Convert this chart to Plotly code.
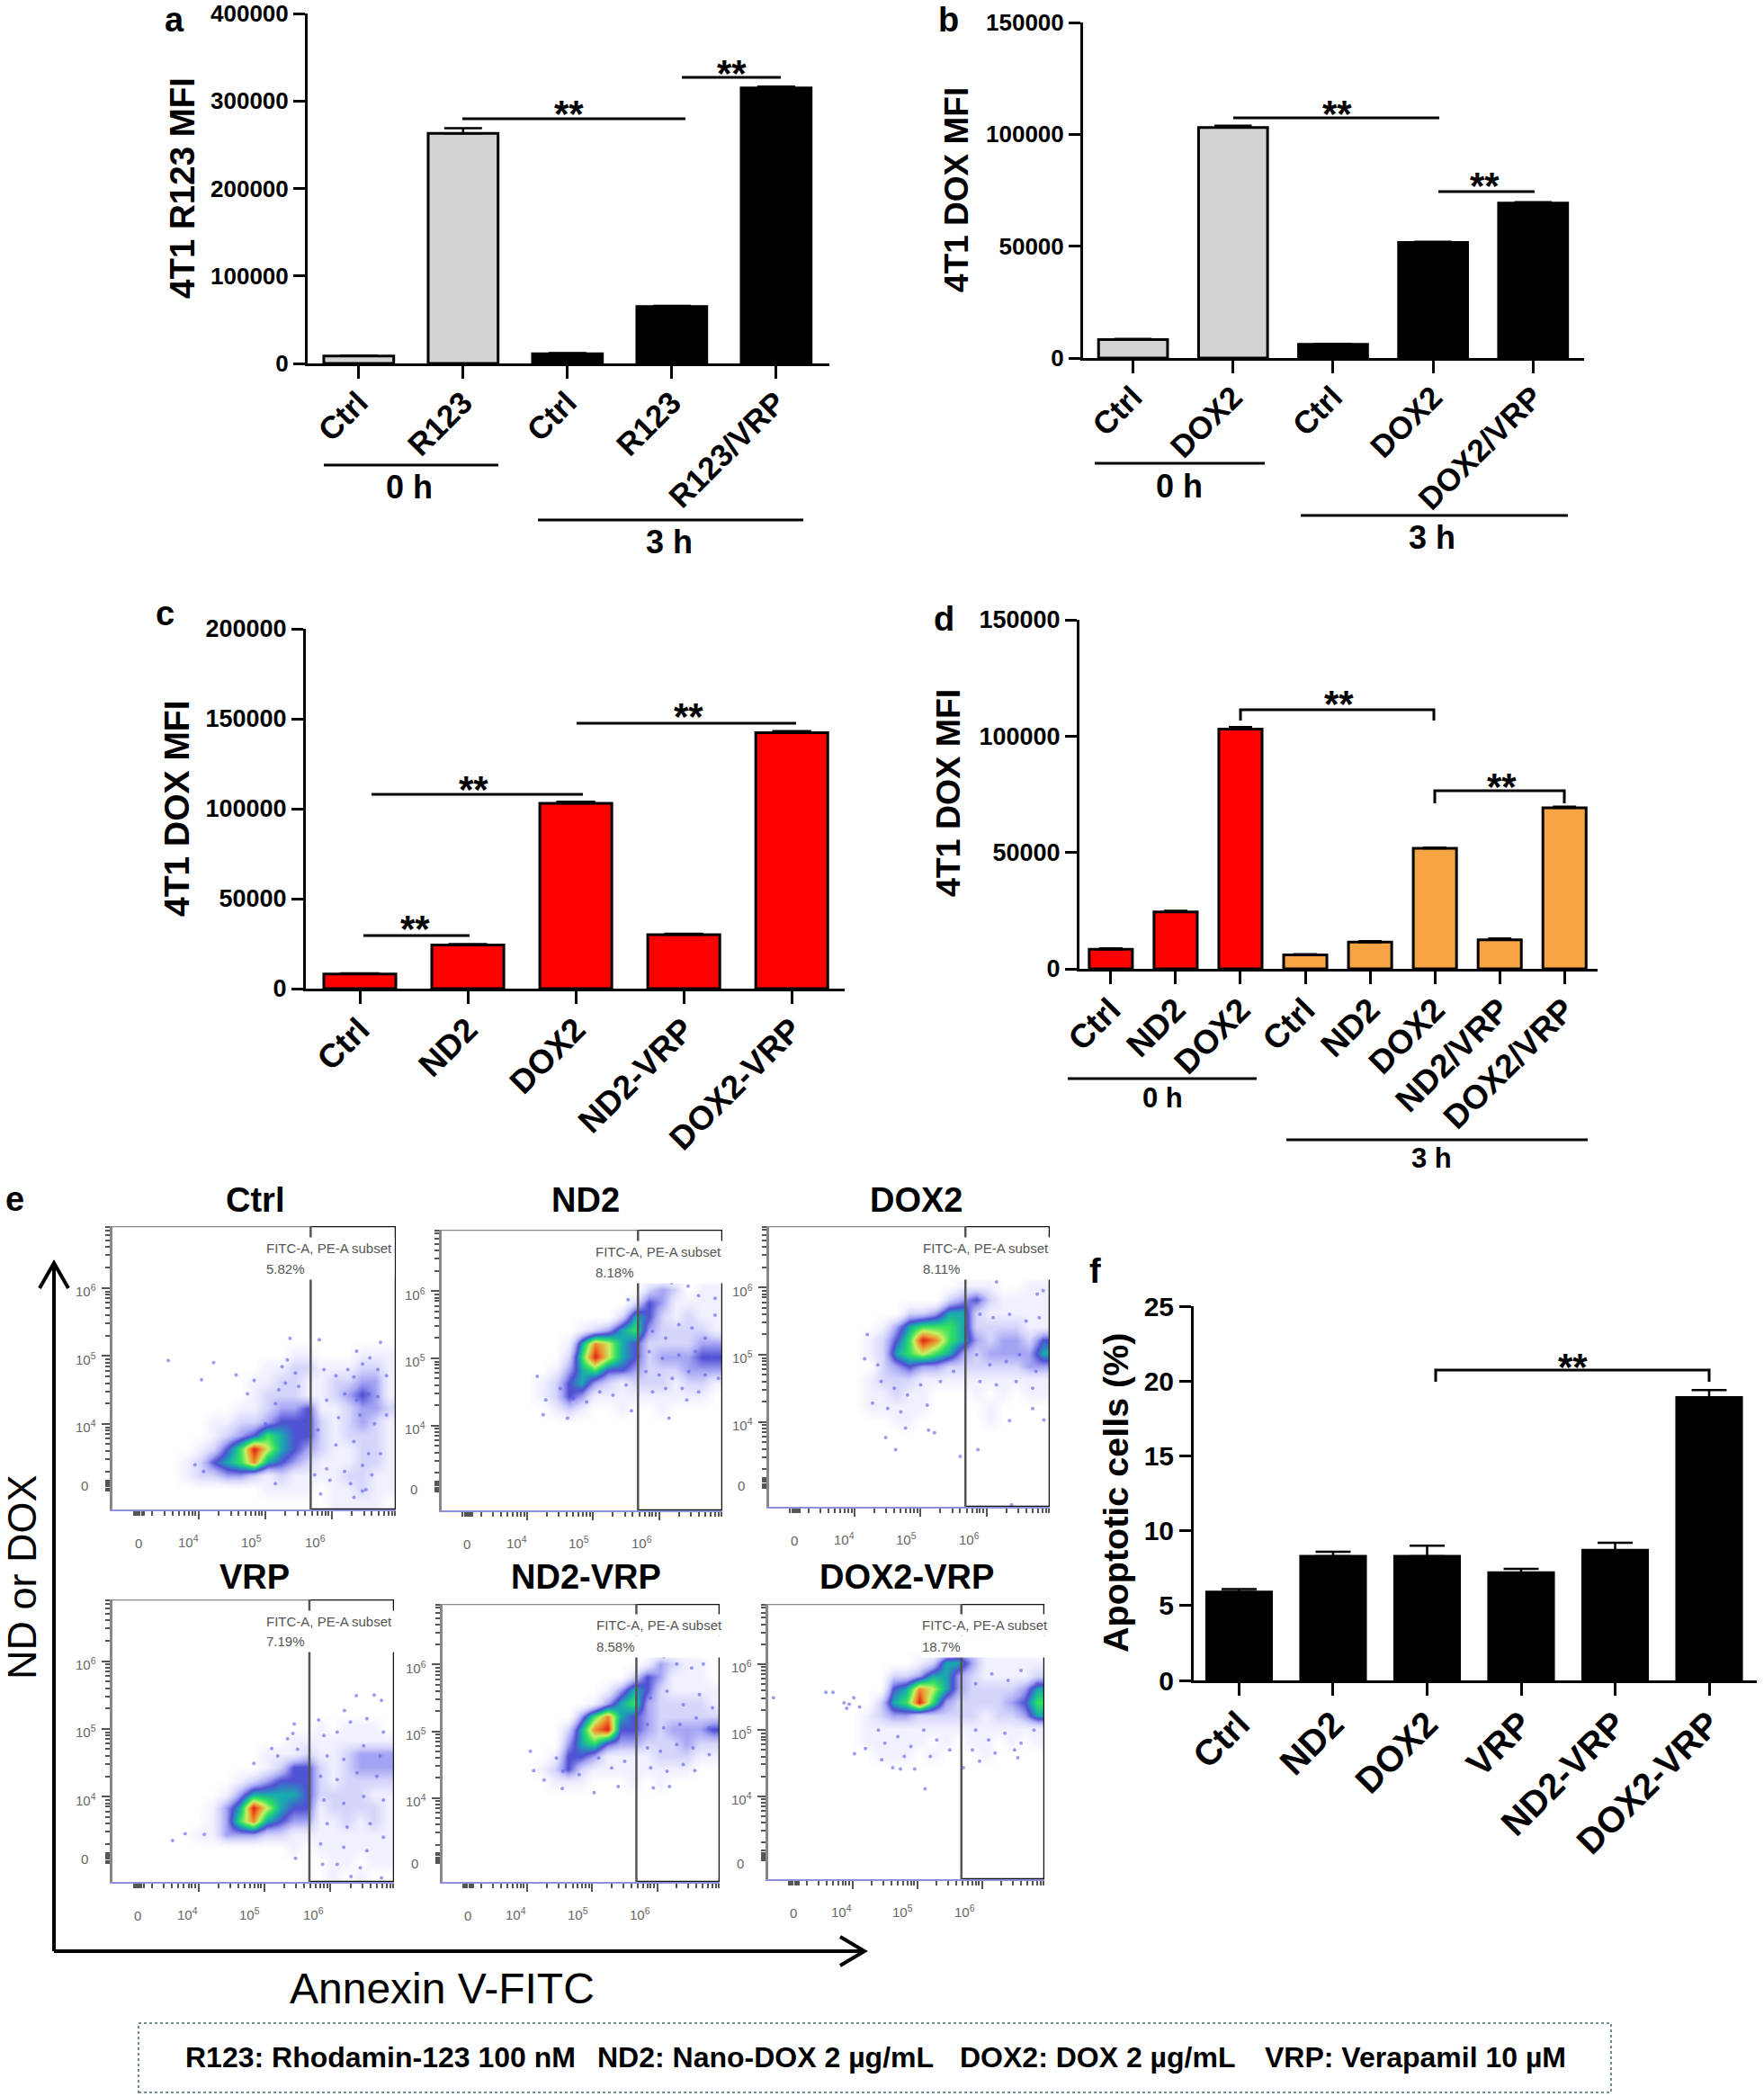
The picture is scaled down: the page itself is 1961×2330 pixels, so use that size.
import plotly.graph_objects as go

W, H = 1961, 2330
FONT = "Liberation Sans"

# ------- bar panel values -------
A_CATS = ["Ctrl", "R123", "Ctrl", "R123", "R123/VRP"]
A_VALS = [8400, 263000, 11000, 65000, 315000]
A_ERRS = [500, 6000, 800, 800, 1500]
A_COLS = ["#d3d3d3", "#d3d3d3", "#000000", "#000000", "#000000"]
A_TICKS = [0, 100000, 200000, 300000, 400000]

B_CATS = ["Ctrl", "DOX2", "Ctrl", "DOX2", "DOX2/VRP"]
B_VALS = [8200, 103000, 6100, 51700, 69300]
B_ERRS = [300, 900, 200, 300, 400]
B_COLS = ["#d3d3d3", "#d3d3d3", "#000000", "#000000", "#000000"]
B_TICKS = [0, 50000, 100000, 150000]

C_CATS = ["Ctrl", "ND2", "DOX2", "ND2-VRP", "DOX2-VRP"]
C_VALS = [8100, 24300, 103000, 30000, 142200]
C_ERRS = [400, 400, 900, 500, 900]
C_COLS = ["#ff0000"] * 5
C_TICKS = [0, 50000, 100000, 150000, 200000]

D_CATS = ["Ctrl", "ND2", "DOX2", "Ctrl", "ND2", "DOX2", "ND2/VRP", "DOX2/VRP"]
D_VALS = [8400, 24500, 103000, 6000, 11500, 51800, 12500, 69200]
D_ERRS = [400, 400, 900, 300, 400, 300, 500, 500]
D_COLS = ["#ff0000"] * 3 + ["#f7a544"] * 5
D_TICKS = [0, 50000, 100000, 150000]

F_CATS = ["Ctrl", "ND2", "DOX2", "VRP", "ND2-VRP", "DOX2-VRP"]
F_VALS = [5.9, 8.3, 8.3, 7.2, 8.7, 18.9]
F_ERRS = [0.2, 0.3, 0.7, 0.25, 0.5, 0.5]
F_COLS = ["#000000"] * 6
F_TICKS = [0, 5, 10, 15, 20, 25]

# ------- flow cytometry panels: density read by eye, 0 empty .. 9 peak, top row first -------
ZERO = "0" * 21
CTRL_GRID = [ZERO] * 9 + [
    "000000000000011000111", "000000000001122111221", "000000000011221122331",
    "000000000012221123431", "000000000112334112332", "000000011223444212321",
    "000000012346544212221", "000000124697543211221", "000001245685432111221",
    "000001223321211112211", "000000000001111011211", "000000000000000011110"]
ND2_GRID = [ZERO] * 4 + [
    "000000000000000232011", "000000000000002431111", "000000000000025421211",
    "000000000012356322221", "000000000158754222233", "000000000269754233344",
    "000000001356443222333", "000000012453212221221", "000000012431111111110",
    "000000001210010010000"] + [ZERO] * 7
DOX2_GRID = [ZERO] * 4 + [
    "000000000000001110011", "000000000000023421111", "000000000022355211111",
    "000000001356665222211", "000000012469865323324", "000000012567653233335",
    "000000002343322222233", "000000012221111111111", "000000011211000101011",
    "000000011111000010000", "000000000110000010000"] + [ZERO] * 6
VRP_GRID = [ZERO] * 9 + [
    "000000000000000101110", "000000000000011111111", "000000000001112112333",
    "000000000001244212333", "000000000123444212222", "000000001355554222211",
    "000000013597544122221", "000000013685433112121", "000000113332211111111",
    "000000000000010111111", "000000000000000011011", "000000000000000010100"]
ND2VRP_GRID = [ZERO] * 4 + [
    "000000000000000132110", "000000000000002431110", "000000000000135421111",
    "000000000001356322221", "000000000036854322222", "000000000258944323334",
    "000000000356433222322", "000000001443111122211", "000000012421111111100",
    "000000001110001010000"] + [ZERO] * 7
DOX2VRP_GRID = [ZERO] * 2 + [
    "000000000000000110000", "000000000000012210000", "000000000001255311111",
    "000000000223553211112", "000000000458753222235", "000000002569632222346",
    "000000012332222212235", "000000011111111111111", "000000011111010110101",
    "000000001110100010000"] + [ZERO] * 9

# stray events, as (FITC decade, PE decade)
CTRL_DOTS = [(3.54, 4.93), (4.22, 4.90), (4.04, 4.65), (4.56, 4.72), (4.83, 4.64), (4.73, 4.44),
             (5.37, 5.26), (5.81, 5.24), (6.73, 5.2), (6.37, 5.07), (5.33, 4.94), (5.25, 4.84),
             (3.94, 3.40), (4.07, 3.30), (5.15, 3.12), (5.83, 2.97), (6.33, 2.92), (6.46, 3.01),
             (5.88, 4.8), (6.06, 4.71), (6.24, 4.8), (6.33, 4.69), (6.46, 4.88), (6.57, 4.97),
             (6.69, 4.8), (6.82, 4.71), (6.19, 4.44), (6.37, 4.35), (6.55, 4.44), (6.69, 4.4),
             (5.92, 4.35), (6.1, 4.09), (6.42, 4.13), (6.64, 4.0), (6.82, 4.13), (5.79, 3.91),
             (6.06, 3.69), (6.33, 3.74), (6.55, 3.56), (6.73, 3.56), (5.92, 3.34), (6.19, 3.30),
             (6.46, 3.39), (6.6, 3.25), (6.28, 3.12), (6.51, 3.03), (5.74, 3.25), (5.97, 3.17),
             (5.2, 4.5), (5.3, 4.6), (5.15, 4.3), (5.45, 4.75), (5.5, 4.55), (5.0, 4.0)]
ND2_DOTS = [(4.15, 4.73), (4.24, 4.16), (4.61, 4.11), (6.15, 4.11), (6.46, 6.31), (6.44, 6.07),
            (6.6, 5.93), (6.85, 5.89), (6.85, 5.64), (5.58, 4.22), (6.42, 4.38), (6.19, 6.12),
            (5.53, 5.87), (4.28, 4.38), (5.9, 5.4), (6.1, 5.3), (6.3, 5.5), (6.5, 5.45), (6.7, 5.3),
            (5.85, 5.1), (6.05, 5.0), (6.3, 5.05), (6.55, 5.1), (6.8, 5.0), (5.8, 4.8), (6.0, 4.75),
            (6.2, 4.7), (6.45, 4.8), (6.7, 4.75), (6.9, 4.7), (5.9, 4.5), (6.1, 4.55), (6.35, 4.55),
            (6.6, 4.5), (4.5, 4.55), (4.7, 4.4), (4.9, 4.35), (5.1, 4.5), (5.3, 4.45), (5.5, 4.6)]
DOX2_DOTS = [(4.19, 5.30), (4.15, 4.94), (4.27, 4.28), (4.47, 3.77), (4.62, 3.59), (4.77, 3.91),
             (5.12, 3.88), (5.21, 3.84), (5.6, 3.49), (5.87, 3.59), (6.35, 4.02), (6.87, 4.03),
             (6.7, 4.2), (6.15, 6.08), (6.77, 5.9), (6.86, 5.95), (6.38, 2.77), (5.9, 5.6),
             (6.1, 5.55), (6.35, 5.6), (6.6, 5.5), (6.8, 5.55), (5.85, 5.0), (6.05, 4.85), (6.3, 4.9),
             (6.5, 5.0), (6.75, 4.75), (5.9, 4.6), (6.15, 4.55), (6.45, 4.6), (6.7, 4.5), (4.4, 4.6),
             (4.6, 4.5), (4.8, 4.4), (5.0, 4.55), (4.35, 4.85), (4.5, 4.2), (4.7, 4.15), (5.1, 4.25),
             (5.3, 4.6), (5.5, 4.75)]
VRP_DOTS = [(3.61, 3.35), (3.8, 3.45), (4.09, 3.44), (4.84, 4.49), (5.11, 4.71), (5.45, 5.07),
            (5.43, 4.93), (5.82, 5.13), (6.39, 5.49), (6.66, 5.5), (6.77, 5.42), (6.21, 5.27),
            (5.47, 3.09), (5.88, 3.0), (6.31, 2.82), (6.77, 2.8), (5.9, 4.9), (6.1, 4.95), (6.3, 5.1),
            (6.55, 5.15), (6.8, 4.95), (5.95, 4.6), (6.2, 4.55), (6.5, 4.75), (6.75, 4.6), (5.85, 4.3),
            (6.1, 4.25), (6.4, 4.35), (6.7, 4.3), (5.9, 3.95), (6.2, 3.9), (6.5, 4.0), (6.8, 3.95),
            (5.95, 3.6), (6.25, 3.55), (6.6, 3.6), (5.85, 3.3), (6.2, 3.25), (6.55, 3.2), (6.8, 3.4),
            (6.1, 3.0), (6.45, 2.95), (5.2, 4.6), (5.35, 4.85), (5.5, 4.7)]
ND2VRP_DOTS = [(4.05, 4.70), (4.1, 4.41), (4.26, 4.27), (5.03, 4.08), (5.4, 4.17), (5.94, 4.15),
               (6.19, 4.17), (6.1, 6.12), (6.3, 6.01), (6.71, 6.01), (6.53, 5.95), (6.58, 4.41),
               (4.54, 4.14), (5.9, 5.5), (6.15, 5.6), (6.4, 5.4), (6.65, 5.55), (6.85, 5.35),
               (5.85, 5.1), (6.1, 5.05), (6.35, 5.1), (6.6, 5.2), (6.8, 5.05), (5.85, 4.75), (6.05, 4.7),
               (6.3, 4.8), (6.55, 4.75), (6.8, 4.65), (5.9, 4.45), (6.15, 4.4), (6.4, 4.5), (4.45, 4.6),
               (4.55, 4.4), (4.8, 4.35), (5.1, 4.6), (5.3, 4.45), (5.5, 4.55)]
DOX2VRP_DOTS = [(2.78, 5.49), (3.59, 5.57), (3.7, 5.57), (3.87, 5.41), (3.95, 5.39), (3.91, 5.33),
                (4.02, 5.49), (4.11, 5.35), (4.03, 4.64), (4.2, 4.72), (5.12, 4.11), (4.62, 4.43),
                (4.74, 4.41), (4.96, 4.41), (5.71, 4.43), (5.96, 4.53), (6.55, 4.58), (6.67, 6.15),
                (6.74, 6.15), (4.4, 5.0), (4.5, 4.8), (4.7, 4.9), (4.9, 4.75), (5.1, 5.0), (5.3, 4.85),
                (5.5, 4.7), (4.45, 4.55), (4.8, 4.6), (5.2, 4.6), (5.9, 5.0), (6.1, 4.85), (6.35, 4.95),
                (6.6, 4.8), (6.8, 5.0), (5.85, 4.7), (6.2, 4.65), (6.5, 4.7), (5.9, 5.7), (6.15, 5.85),
                (6.4, 5.75), (6.6, 5.9), (6.85, 5.7), (5.95, 6.25), (5.85, 6.4)]

FLOW_TITLES = ["Ctrl", "ND2", "DOX2", "VRP", "ND2-VRP", "DOX2-VRP"]
FLOW_PCT = ["5.82%", "8.18%", "8.11%", "7.19%", "8.58%", "18.7%"]
FLOW_GRIDS = [CTRL_GRID, ND2_GRID, DOX2_GRID, VRP_GRID, ND2VRP_GRID, DOX2VRP_GRID]
FLOW_DOTS = [CTRL_DOTS, ND2_DOTS, DOX2_DOTS, VRP_DOTS, ND2VRP_DOTS, DOX2VRP_DOTS]
GATE = 5.68
X_RANGE = [2.70, 6.96]
Y_RANGE = [2.74, 6.91]
X_MAJOR = [4, 5, 6]
Y_MAJOR = [4, 5, 6]
DECADE_MINORS = [0.3, 0.48, 0.6, 0.7, 0.78, 0.85, 0.9, 0.95]
ZERO_TICKS = [3.02, 3.05, 3.08, 3.11, 3.14, 3.17]
DENSITY_COLORS = [
    [0.0, "#ffffff"], [0.11, "#f0f0ff"], [0.22, "#d6d6fb"], [0.33, "#a6a6f4"], [0.44, "#5050d4"],
    [0.55, "#18a8b0"], [0.66, "#30e060"], [0.77, "#c8f060"], [0.88, "#ee9030"], [1.0, "#e02010"]]

# pixel boxes of the panels (left, right, top, bottom)
FLOW_BOXES = [(125, 440, 1363, 1678), (491, 803, 1367, 1679), (855, 1167, 1363, 1675),
              (125, 438, 1778, 2092), (492, 800, 1783, 2092), (854, 1161, 1783, 2089)]
FLOW_TITLE_POS = [(283, 1334), (651, 1334), (1018, 1334), (283, 1753), (651, 1753), (1008, 1753)]

fig = go.Figure()
shapes = []
notes = []
axis_no = 0


def px(x):
    return x / W


def py(y):
    return 1 - y / H


def text(x, y, s, size, bold=True, color="#000000", angle=0, family=FONT, **kw):
    notes.append(dict(x=px(x), y=py(y), xref="paper", yref="paper", text=s, showarrow=False,
                      textangle=angle, xanchor=kw.pop("xanchor", "center"), yanchor="middle",
                      font=dict(family=family, size=size, color=color,
                                weight="bold" if bold else "normal"), **kw))


def hline(x0, x1, y, width=3, color="#000000"):
    shapes.append(dict(type="line", xref="paper", yref="paper", x0=px(x0), x1=px(x1),
                       y0=py(y), y1=py(y), line=dict(color=color, width=width)))


def bracket(x0, x1, y, y_end0, y_end1):
    path = f"M{px(x0)},{py(y_end0)} L{px(x0)},{py(y)} L{px(x1)},{py(y)} L{px(x1)},{py(y_end1)}"
    shapes.append(dict(type="path", xref="paper", yref="paper", path=path,
                       line=dict(color="#000000", width=3)))


def stars(x, y):
    # the asterisks sit high in the line box, so push the box down
    text(x, y + 8, "**", 42)


def bar_panel(cats, vals, errs, cols, ticks, box, xr, tick_size, cat_size, bar_width):
    global axis_no
    axis_no += 1
    left, right, top, bottom = box
    xa, ya = f"x{axis_no}", f"y{axis_no}"
    bar_px = bar_width * (right - left) / (xr[1] - xr[0])
    fig.add_trace(go.Bar(
        x=list(range(len(vals))), y=vals, width=bar_width, xaxis=xa, yaxis=ya,
        marker=dict(color=cols, line=dict(color="#000000", width=3)),
        error_y=dict(type="data", symmetric=False, array=errs, arrayminus=[0] * len(errs),
                     color="#000000", thickness=2.5, width=bar_px * 0.27),
        showlegend=False))
    fig.update_layout(**{
        f"xaxis{axis_no}": dict(
            domain=[px(left), px(right)], anchor=ya, range=xr, tickmode="array", automargin=False,
            tickvals=list(range(len(cats))), ticktext=cats, tickangle=-45,
            tickfont=dict(family=FONT, size=cat_size, weight="bold", color="#000000"),
            ticks="outside", ticklen=14, tickwidth=3, tickcolor="#000000",
            showline=True, linecolor="#000000", linewidth=3, showgrid=False, zeroline=False,
            ticklabelstandoff=-8),
        f"yaxis{axis_no}": dict(
            domain=[py(bottom), py(top)], anchor=xa, range=[0, ticks[-1]], tickmode="array", automargin=False,
            tickvals=ticks, ticktext=[str(t) for t in ticks],
            tickfont=dict(family=FONT, size=tick_size, weight="bold", color="#000000"),
            ticks="outside", ticklen=13, tickwidth=3, tickcolor="#000000",
            showline=True, linecolor="#000000", linewidth=3, showgrid=False, zeroline=False)})


def flow_panel(grid, dots, box, pct):
    global axis_no
    axis_no += 1
    left, right, top, bottom = box
    xa, ya = f"x{axis_no}", f"y{axis_no}"
    dx = (X_RANGE[1] - X_RANGE[0]) / 21
    dy = (Y_RANGE[1] - Y_RANGE[0]) / 21
    fig.add_trace(go.Heatmap(
        z=[[int(c) for c in row] for row in grid[::-1]], x0=X_RANGE[0] + dx / 2, dx=dx,
        y0=Y_RANGE[0] + dy / 2, dy=dy, zmin=0, zmax=9, zsmooth="best",
        colorscale=DENSITY_COLORS, showscale=False, xaxis=xa, yaxis=ya, hoverinfo="skip"))
    fig.add_trace(go.Scatter(
        x=[d[0] for d in dots], y=[d[1] for d in dots], mode="markers", xaxis=xa, yaxis=ya,
        marker=dict(color="#5a5ae6", size=4, opacity=0.6), showlegend=False, hoverinfo="skip"))
    minors = ZERO_TICKS + [d + m for d in [3, 4, 5, 6] for m in DECADE_MINORS]
    tick_style = dict(ticks="outside", tickcolor="#555555", tickwidth=1.5, showticklabels=False,
                      showgrid=False, zeroline=False, automargin=False)
    fig.update_layout(**{
        f"xaxis{axis_no}": dict(
            domain=[px(left), px(right)], anchor=ya, range=X_RANGE, tickmode="array",
            tickvals=X_MAJOR, ticklen=9, showline=True, linecolor="#9090d8", linewidth=1.5,
            minor=dict(tickmode="array", tickvals=minors, ticks="outside", ticklen=5,
                       tickcolor="#555555", tickwidth=1.5, showgrid=False),
            **tick_style),
        f"yaxis{axis_no}": dict(
            domain=[py(bottom), py(top)], anchor=xa, range=Y_RANGE, tickmode="array",
            tickvals=Y_MAJOR, ticklen=9, showline=True, linecolor="#888888", linewidth=2.5,
            minor=dict(tickmode="array", tickvals=minors, ticks="outside", ticklen=5,
                       tickcolor="#555555", tickwidth=1.5, showgrid=False),
            **tick_style)})
    # gate and frame
    shapes.append(dict(type="line", xref=xa, yref=ya, x0=X_RANGE[0], x1=GATE, y0=Y_RANGE[1], y1=Y_RANGE[1],
                       line=dict(color="#888888", width=2.5)))
    shapes.append(dict(type="path", xref=xa, yref=ya,
                       path=f"M{GATE},{Y_RANGE[1]} L{X_RANGE[1]},{Y_RANGE[1]} "
                            f"L{X_RANGE[1]},{Y_RANGE[0]} L{GATE},{Y_RANGE[0]}",
                       line=dict(color="#111111", width=2.5)))
    shapes.append(dict(type="line", xref=xa, yref=ya, x0=GATE, x1=GATE, y0=Y_RANGE[0], y1=Y_RANGE[1],
                       line=dict(color="#555555", width=2.5)))
    # gate text, the white box also breaks the gate line
    for i, s in enumerate(["FITC-A, PE-A subset", pct]):
        text(left + 170, top + 24 + 23 * i, s, 15, bold=False, color="#555555", xanchor="left",
             bgcolor="#ffffff", width=142, height=23, align="left", borderpad=0)
    # decade labels sit off the tick marks in the source
    zx = left + (3.14 - X_RANGE[0]) / (X_RANGE[1] - X_RANGE[0]) * (right - left)
    text(zx - 4, bottom + 37, "0", 15, bold=False, color="#666666")
    for d, off in zip(X_MAJOR, [-12, -16, -19]):
        tx = left + (d - X_RANGE[0]) / (X_RANGE[1] - X_RANGE[0]) * (right - left)
        text(tx + off, bottom + 35, f"10<sup>{d}</sup>", 15, bold=False, color="#666666")
    for d in Y_MAJOR:
        ty = bottom - (d - Y_RANGE[0]) / (Y_RANGE[1] - Y_RANGE[0]) * (bottom - top)
        text(left - 30, ty + 3, f"10<sup>{d}</sup>", 15, bold=False, color="#666666")
    text(left - 31, top + 288, "0", 15, bold=False, color="#666666")


#------- BAR PANELS -------#
bar_panel(A_CATS, A_VALS, A_ERRS, A_COLS, A_TICKS, (342, 922, 15, 404), [-0.49, 4.51], 26, 35, 0.67)
bar_panel(B_CATS, B_VALS, B_ERRS, B_COLS, B_TICKS, (1204, 1761, 25, 398), [-0.5, 4.51], 26, 35, 0.69)
bar_panel(C_CATS, C_VALS, C_ERRS, C_COLS, C_TICKS, (340, 939, 699, 1099), [-0.5, 4.49], 27, 37, 0.667)
bar_panel(D_CATS, D_VALS, D_ERRS, D_COLS, D_TICKS, (1200, 1776, 689, 1077), [-0.484, 7.51], 27, 37, 0.667)
bar_panel(F_CATS, F_VALS, F_ERRS, F_COLS, F_TICKS, (1327, 1953, 1452, 1868), [-0.483, 5.507], 30, 40, 0.69)

#------- FLOW PANELS -------#
for grid, dots, box, pct in zip(FLOW_GRIDS, FLOW_DOTS, FLOW_BOXES, FLOW_PCT):
    flow_panel(grid, dots, box, pct)
for (tx, ty), title in zip(FLOW_TITLE_POS, FLOW_TITLES):
    text(tx, ty, title, 38)

# significance marks and time groups
hline(514, 762, 132); stars(632, 118)
hline(758, 868, 86); stars(813, 74)
hline(360, 554, 517); text(455, 542, "0 h", 36)
hline(598, 893, 578); text(744, 603, "3 h", 36)

hline(1371, 1600, 131); stars(1486, 118)
hline(1599, 1706, 213); stars(1650, 198)
hline(1217, 1406, 515); text(1311, 540, "0 h", 36)
hline(1446, 1743, 573); text(1592, 597, "3 h", 36)

hline(404, 522, 1040); stars(461, 1025)
hline(413, 648, 883); stars(526, 869)
hline(641, 885, 804); stars(765, 789)

bracket(1379, 1594, 789, 801, 801); stars(1488, 775)
bracket(1595, 1739, 879, 893, 893); stars(1669, 867)
hline(1187, 1397, 1199); text(1292, 1220, "0 h", 31)
hline(1430, 1765, 1267); text(1591, 1287, "3 h", 31)

bracket(1596, 1900, 1523, 1536, 1536); stars(1748, 1511)

# axis titles and panel letters
text(202, 209, "4T1 R123 MFI", 38.5, angle=-90)
text(1064, 211, "4T1 DOX MFI", 37, angle=-90)
text(196, 899, "4T1 DOX MFI", 39, angle=-90)
text(1054, 882, "4T1 DOX MFI", 37.5, angle=-90)
text(1240, 1659, "Apoptotic cells (%)", 39.5, angle=-90)
for letter, lx, ly in [("a", 194, 22), ("b", 1054, 22), ("c", 183, 682), ("d", 1049, 688),
                       ("e", 16, 1333), ("f", 1217, 1413)]:
    text(lx, ly, letter, 38)

# big flow axes
shapes.append(dict(type="path", xref="paper", yref="paper",
                   path=f"M{px(60)},{py(2169)} L{px(60)},{py(1404)} M{px(44)},{py(1432)} L{px(60)},{py(1404)} "
                        f"L{px(76)},{py(1432)}",
                   line=dict(color="#000000", width=4)))
shapes.append(dict(type="path", xref="paper", yref="paper",
                   path=f"M{px(60)},{py(2169)} L{px(961)},{py(2169)} M{px(934)},{py(2153)} L{px(961)},{py(2169)} "
                        f"L{px(934)},{py(2185)}",
                   line=dict(color="#000000", width=4)))
text(24, 1753, "ND or DOX", 45, bold=False, angle=-90, height=40)
text(491, 2210, "Annexin V-FITC", 48, bold=False)

# abbreviations box
shapes.append(dict(type="rect", xref="paper", yref="paper", x0=px(154), x1=px(1791), y0=py(2326), y1=py(2249),
                   line=dict(color="#6f9090", width=2, dash="dot")))
for tx, s in [(423, "R123: Rhodamin-123 100 nM"), (851, "ND2: Nano-DOX 2 µg/mL"),
              (1220, "DOX2: DOX 2 µg/mL"), (1573, "VRP: Verapamil 10 µM")]:
    text(tx, 2287, s, 32)

fig.update_layout(width=W, height=H, margin=dict(l=0, r=0, t=0, b=0), autosize=False,
                  paper_bgcolor="#ffffff", plot_bgcolor="#ffffff", showlegend=False, bargap=0.3,
                  shapes=shapes, annotations=notes)
# the page's default body margin would push the chart off its pixel grid
fig.write_html("out.html", config={"displayModeBar": False},
               post_script="document.body.style.margin='0';")
